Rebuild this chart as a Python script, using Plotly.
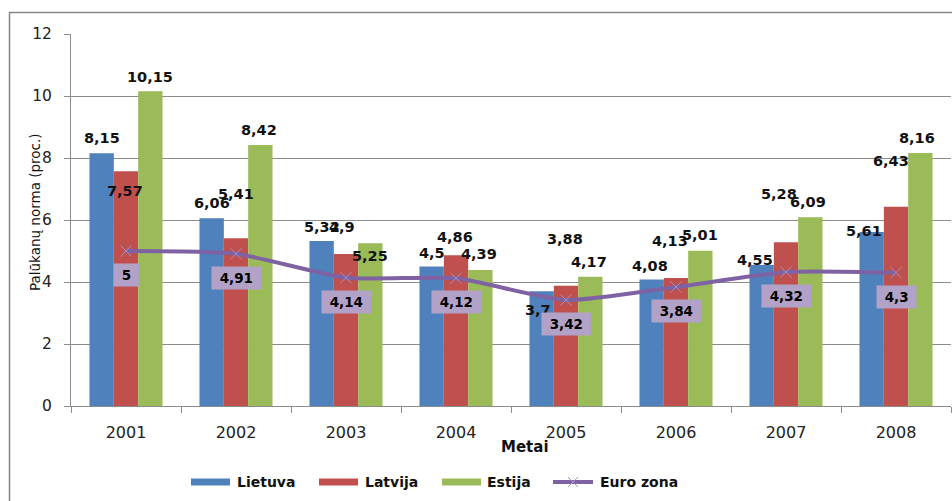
import plotly.graph_objects as go

# ---- data -------------------------------------------------------------
years = ["2001", "2002", "2003", "2004", "2005", "2006", "2007", "2008"]
lietuva = [8.15, 6.06, 5.32, 4.5, 3.7, 4.08, 4.55, 5.61]
latvija = [7.57, 5.41, 4.9, 4.86, 3.88, 4.13, 5.28, 6.43]
estija = [10.15, 8.42, 5.25, 4.39, 4.17, 5.01, 6.09, 8.16]
euro_zona = [5, 4.91, 4.14, 4.12, 3.42, 3.84, 4.32, 4.3]
y_tick_values = [0, 2, 4, 6, 8, 10, 12]

# ---- styling / geometry ------------------------------------------------
W, H = 952, 501
PLOT_L, PLOT_R, PLOT_T, PLOT_B = 71, 951, 34, 406
PLOT_W, PLOT_H = PLOT_R - PLOT_L, PLOT_B - PLOT_T
BARGAP = 0.336
SLOT = PLOT_W / len(years) * (1 - BARGAP) / 3  # width of one bar in px

BLUE, RED, GREEN = "#4F81BD", "#C0504D", "#9BBB59"
PURPLE, LILAC = "#7F62A4", "#B3A2C7"
GRID = "#8C8C8C"
FONT = "DejaVu Sans"

# per-label nudges (dx, dy) in px relative to the top of each bar
bar_label_nudge = {
    "Lietuva": [(0, 15), (0, 15), (0, 14), (0, 14), (-4, -19), (-2, 14), (-7, 5), (-8, 1)],
    "Latvija": [(-1, -20), (0, 44), (-4, 27), (-1, 18), (-1, 47), (-6, 37), (-7, 48), (-5, 46)],
    "Estija": [(0, 14), (-1, 15), (0, -13), (-1, 16), (-1, 15), (0, 16), (-2, 15), (-3, 15)],
}
euro_label_drop = -24


def fmt(v):
    return f"{v:g}".replace(".", ",")


def px(x):
    return (x - PLOT_L) / PLOT_W


def py(y):
    return (PLOT_B - y) / PLOT_H


fig = go.Figure()

bar_series = [("Lietuva", lietuva, BLUE), ("Latvija", latvija, RED), ("Estija", estija, GREEN)]
for name, vals, col in bar_series:
    fig.add_trace(go.Bar(
        x=years, y=vals, name=name, marker=dict(color=col, line=dict(width=0)),
        showlegend=False, hoverinfo="x+y",
    ))

fig.add_trace(go.Scatter(
    x=years, y=euro_zona, name="Euro zona", mode="lines+markers",
    line=dict(color=PURPLE, width=4, shape="spline", smoothing=0.6),
    marker=dict(symbol="x-thin", size=11, line=dict(color="#A48FC4", width=1)),
    showlegend=False,
))

annotations = []

# value labels above / on the bars (x given as category index)
for i, (name, vals, _) in enumerate(bar_series):
    group_off = (i - 1) * SLOT
    for j, v in enumerate(vals):
        dx, dy = bar_label_nudge[name][j]
        annotations.append(dict(
            x=j, y=v, xref="x", yref="y", text=f"<b>{fmt(v)}</b>",
            showarrow=False, xshift=group_off + dx, yshift=dy,
            font=dict(family=FONT, size=14.5, color="#111111"),
            xanchor="center", yanchor="middle",
        ))

# boxed labels of the Euro zona line
for j, v in enumerate(euro_zona):
    annotations.append(dict(
        x=j, y=v, xref="x", yref="y", text=f"<b>\u00a0{fmt(v)}\u00a0</b>",
        showarrow=False, yshift=euro_label_drop, bgcolor=LILAC, borderpad=3,
        font=dict(family=FONT, size=13.5, color="#000000"),
        xanchor="center", yanchor="middle",
    ))

# axis titles
annotations.append(dict(
    x=px(525), y=py(447), xref="paper", yref="paper", text="<b>Metai</b>",
    showarrow=False, font=dict(family=FONT, size=15, color="#111111"),
    xanchor="center", yanchor="middle",
))
annotations.append(dict(
    x=px(35), y=py(212), xref="paper", yref="paper", text="Palūkanų norma (proc.)",
    showarrow=False, textangle=-90, font=dict(family=FONT, size=13.5, color="#111111"),
    xanchor="center", yanchor="middle",
))

shapes = []

# outer chart frame
shapes.append(dict(
    type="rect", xref="paper", yref="paper",
    x0=px(9.5), x1=px(965), y0=py(12.5), y1=py(520),
    line=dict(color="#868686", width=1.5), fillcolor="rgba(0,0,0,0)", layer="below",
))

# legend, laid out along the bottom
legend_y = 482
legend_items = [
    ("Lietuva", BLUE, 191, 235),
    ("Latvija", RED, 319, 363),
    ("Estija", GREEN, 442, 485),
]
for label, col, sx, tx in legend_items:
    shapes.append(dict(
        type="rect", xref="paper", yref="paper",
        x0=px(sx), x1=px(sx + 39), y0=py(legend_y - 3.5), y1=py(legend_y + 3.5),
        line=dict(width=0), fillcolor=col,
    ))
    annotations.append(dict(
        x=px(tx), y=py(legend_y), xref="paper", yref="paper", text=f"<b>{label}</b>",
        showarrow=False, xanchor="left", yanchor="middle",
        font=dict(family=FONT, size=14, color="#111111"),
    ))

# Euro zona legend entry: line with an x marker in the middle
ex0, ex1 = 553, 593
shapes.append(dict(
    type="line", xref="paper", yref="paper",
    x0=px(ex0), x1=px(ex1), y0=py(legend_y), y1=py(legend_y),
    line=dict(color=PURPLE, width=4),
))
mx = (ex0 + ex1) / 2
for a, b in ((-5, -5), (-5, 5)):
    shapes.append(dict(
        type="line", xref="paper", yref="paper",
        x0=px(mx + a), x1=px(mx - a), y0=py(legend_y + b), y1=py(legend_y - b),
        line=dict(color="#A48FC4", width=1),
    ))
annotations.append(dict(
    x=px(598), y=py(legend_y), xref="paper", yref="paper", text="<b>Euro zona</b>",
    showarrow=False, xanchor="left", yanchor="middle",
    font=dict(family=FONT, size=14, color="#111111"),
))

fig.update_layout(
    width=W, height=H,
    margin=dict(l=PLOT_L, r=W - PLOT_R, t=PLOT_T, b=H - PLOT_B, pad=0),
    paper_bgcolor="white", plot_bgcolor="white",
    barmode="group", bargap=BARGAP, bargroupgap=0,
    showlegend=False,
    annotations=annotations, shapes=shapes,
    font=dict(family=FONT, color="#222222"),
)

fig.update_xaxes(
    type="category", categoryorder="array", categoryarray=years,
    range=[-0.5, len(years) - 0.5],
    showgrid=False, showline=True, linecolor=GRID, linewidth=1,
    ticks="outside", tickson="boundaries", ticklen=6, tickcolor=GRID,
    tickfont=dict(family=FONT, size=16, color="#222222"), ticklabelstandoff=12,
    tickangle=0, zeroline=False,
)
fig.update_yaxes(
    range=[0, 12], tickvals=y_tick_values, ticktext=[str(v) for v in y_tick_values],
    showgrid=True, gridcolor=GRID, gridwidth=1,
    showline=True, linecolor=GRID, linewidth=1,
    ticks="outside", ticklen=6, tickcolor=GRID,
    tickfont=dict(family=FONT, size=15.5, color="#222222"), ticklabelstandoff=9,
    zeroline=False,
)

fig.write_html("out.html")
